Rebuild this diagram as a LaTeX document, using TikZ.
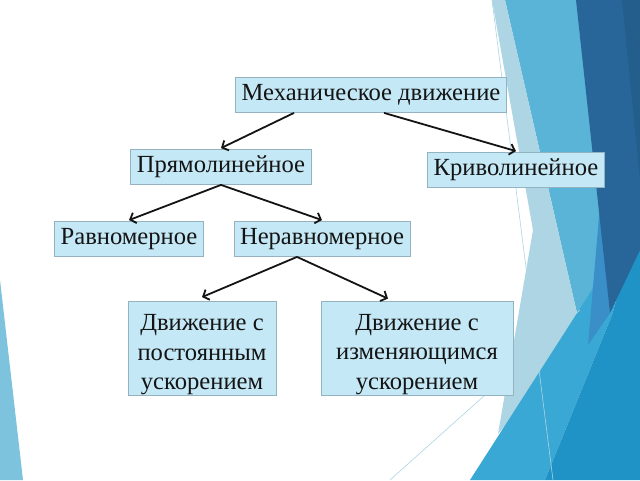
\documentclass[tikz,border=0pt]{standalone}
\usepackage{fontspec}
\setmainfont{Liberation Serif}
\usetikzlibrary{arrows.meta}
\definecolor{boxfill}{HTML}{C4E8F6}
\definecolor{boxline}{HTML}{93B3C0}
\definecolor{txt}{HTML}{141414}
\definecolor{facetpale}{HTML}{ADD5E4}
\definecolor{facetmid}{HTML}{5AB4D7}
\definecolor{facetdark}{HTML}{28669A}
\definecolor{facetdeep}{HTML}{235E8D}
\definecolor{facetlight}{HTML}{3AA8D4}
\definecolor{facetblue}{HTML}{1F93C6}
\definecolor{facetstrip}{HTML}{3A8FC8}
\definecolor{facetleft}{HTML}{7DC3DE}
\newcommand{\lowstart}{\rule{0pt}{29pt}}
\tikzset{
    term-box/.style = {draw=boxline, fill=boxfill, line width=0.8pt, rectangle, inner xsep=6pt, minimum height=35pt, font=\fontsize{24.6}{29.5}\selectfont, text=txt},
    term-box-tall/.style = {term-box, align=center, inner xsep=2pt, inner ysep=0pt, minimum height=94pt},
    term-arrow/.style = {draw=txt, line width=1.8pt, -{Straight Barb[length=5pt,width=11pt]}},
}

\begin{document}
\begin{tikzpicture}[x=1pt,y=-1pt]
\useasboundingbox (0,0) rectangle (640,480);
\fill[white] (0,0) rectangle (640,480);
% facets
\fill[facetleft] (0,280) -- (0,480) -- (23,480) -- cycle;
\fill[facetmid] (505,0) -- (578,0) -- (610,313) -- (582,335) -- cycle;
\fill[facetpale] (492,0) -- (505,0) -- (582,335) -- (498,434) -- (533,230) -- cycle;
\fill[facetlight] (470,480) -- (640,215) -- (612,315) -- (545,480) -- cycle;
\fill[facetblue] (545,480) -- (612,315) -- (640,215) -- (640,480) -- cycle;
\fill[facetstrip] (600,205) -- (610,313) -- (588,345) -- cycle;
\fill[facetdark] (576,0) -- (640,0) -- (640,250) -- (610,313) -- cycle;
\fill[facetdeep] (622,0) -- (640,0) -- (640,180) -- cycle;
\draw[facetpale, line width=0.6pt] (492,0) -- (553,480);
\draw[facetpale, line width=0.6pt] (390,480) -- (580,310);

\node[term-box] (mech) at (371,95) {Механическое движение};
\node[term-box] (straight) at (221,167) {Прямолинейное};
\node[term-box] (curved) at (516,170) {Криволинейное};
\node[term-box] (uniform) at (129,239) {Равномерное};
\node[term-box] (nonuniform) at (322,239) {Неравномерное};
\node[term-box-tall, minimum width=148pt] (constacc) at (202,348.5) {\lowstart Движение с\\постоянным\\ускорением};
\node[term-box-tall, minimum width=192pt] (varacc) at (417,348) {\lowstart Движение с\\изменяющимся\\ускорением};

\draw[term-arrow] ([xshift=-77pt]mech.south) -- ([yshift=1pt]straight.north);
\draw[term-arrow] ([xshift=13pt]mech.south) -- ([yshift=1pt]curved.north);
\draw[term-arrow] (straight.south) -- ([yshift=1pt]uniform.north);
\draw[term-arrow] (straight.south) -- ([yshift=1pt]nonuniform.north);
\draw[term-arrow] ([xshift=-25pt]nonuniform.south) -- ([yshift=4pt]constacc.north);
\draw[term-arrow] ([xshift=-25pt]nonuniform.south) -- ([xshift=-29pt,yshift=2pt]varacc.north);
\end{tikzpicture}
\end{document}
